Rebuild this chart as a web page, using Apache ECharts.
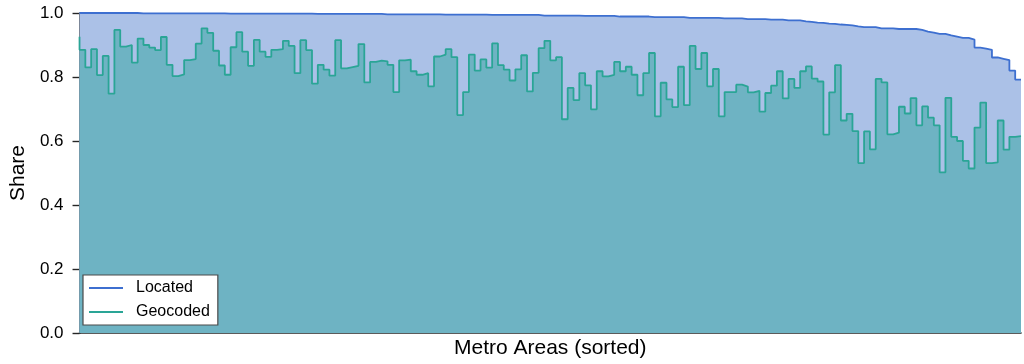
<!DOCTYPE html>
<html>
<head>
<meta charset="utf-8">
<script src="https://cdn.jsdelivr.net/npm/echarts@6/dist/echarts.min.js"></script>
<style>
  html, body { margin: 0; padding: 0; background: #ffffff; }
  #chart { width: 1024px; height: 364px; }
</style>
</head>
<body>
<div id="chart"></div>
<script>
// Share of addresses per metro area, metros sorted by located share.
const seriesNames = ['Located', 'Geocoded'];

const located = [
  1.000, 1.000, 1.000, 1.000, 1.000, 1.000, 1.000, 1.000, 1.000, 1.000,
  1.000, 0.999, 0.999, 0.999, 0.999, 0.999, 0.999, 0.999, 0.999, 0.999,
  0.999, 0.999, 0.999, 0.999, 0.999, 0.999, 0.998, 0.998, 0.998, 0.998,
  0.998, 0.998, 0.998, 0.998, 0.998, 0.998, 0.998, 0.998, 0.998, 0.998,
  0.998, 0.997, 0.997, 0.997, 0.997, 0.997, 0.997, 0.997, 0.997, 0.997,
  0.997, 0.997, 0.997, 0.996, 0.996, 0.996, 0.996, 0.996, 0.996, 0.996,
  0.996, 0.996, 0.996, 0.995, 0.995, 0.995, 0.995, 0.995, 0.995, 0.995,
  0.995, 0.994, 0.994, 0.994, 0.994, 0.994, 0.994, 0.994, 0.994, 0.994,
  0.992, 0.992, 0.992, 0.992, 0.992, 0.992, 0.992, 0.991, 0.991, 0.991,
  0.991, 0.991, 0.991, 0.989, 0.989, 0.989, 0.989, 0.989, 0.989, 0.987,
  0.987, 0.987, 0.987, 0.987, 0.987, 0.985, 0.985, 0.985, 0.985, 0.985,
  0.985, 0.983, 0.983, 0.983, 0.983, 0.981, 0.981, 0.981, 0.981, 0.979,
  0.979, 0.979, 0.977, 0.977, 0.977, 0.974, 0.972, 0.970, 0.969, 0.967,
  0.966, 0.964, 0.963, 0.961, 0.958, 0.956, 0.956, 0.956, 0.952, 0.952,
  0.952, 0.950, 0.950, 0.950, 0.950, 0.947, 0.942, 0.939, 0.935, 0.935,
  0.930, 0.926, 0.922, 0.922, 0.917, 0.892, 0.889, 0.885, 0.861, 0.857,
  0.853, 0.820, 0.792
];

const geocoded = [
  0.926, 0.885, 0.830, 0.887, 0.806, 0.866, 0.748, 0.947, 0.895, 0.900,
  0.845, 0.920, 0.900, 0.892, 0.884, 0.925, 0.838, 0.803, 0.808, 0.853,
  0.856, 0.904, 0.952, 0.938, 0.882, 0.836, 0.807, 0.893, 0.940, 0.879,
  0.835, 0.916, 0.879, 0.863, 0.885, 0.887, 0.913, 0.897, 0.812, 0.915,
  0.884, 0.779, 0.838, 0.823, 0.804, 0.915, 0.827, 0.831, 0.835, 0.903,
  0.783, 0.847, 0.851, 0.849, 0.838, 0.753, 0.852, 0.854, 0.818, 0.807,
  0.812, 0.771, 0.864, 0.870, 0.887, 0.862, 0.681, 0.753, 0.870, 0.820,
  0.855, 0.829, 0.905, 0.837, 0.823, 0.789, 0.824, 0.868, 0.755, 0.813,
  0.890, 0.913, 0.852, 0.862, 0.668, 0.766, 0.728, 0.812, 0.774, 0.699,
  0.818, 0.802, 0.807, 0.847, 0.818, 0.832, 0.807, 0.743, 0.812, 0.875,
  0.677, 0.782, 0.730, 0.706, 0.832, 0.712, 0.897, 0.825, 0.875, 0.771,
  0.825, 0.677, 0.753, 0.753, 0.776, 0.770, 0.752, 0.757, 0.692, 0.750,
  0.773, 0.818, 0.733, 0.794, 0.766, 0.818, 0.833, 0.795, 0.786, 0.620,
  0.752, 0.837, 0.664, 0.685, 0.631, 0.531, 0.630, 0.574, 0.794, 0.783,
  0.621, 0.626, 0.707, 0.686, 0.734, 0.649, 0.708, 0.673, 0.649, 0.502,
  0.735, 0.613, 0.600, 0.538, 0.514, 0.642, 0.720, 0.531, 0.533, 0.664,
  0.573, 0.613, 0.615
];

const yTickLabels = ['0.0', '0.2', '0.4', '0.6', '0.8', '1.0'];
const xAxisTitle = 'Metro Areas (sorted)';
const yAxisTitle = 'Share';

const FONT = 'Liberation Sans, Arial, Helvetica, sans-serif';
const INK = '#262626';
const LOCATED_LINE = '#3d6fd0';
const GEOCODED_LINE = '#2aa596';

const toPoints = arr => arr.map((v, i) => [i, v]);

const chart = echarts.init(document.getElementById('chart'), null, { renderer: 'canvas' });

chart.setOption({
  animation: false,
  backgroundColor: '#ffffff',
  grid: { left: 76, right: 3, top: 13, bottom: 29, containLabel: false },
  xAxis: {
    type: 'value',
    min: 0,
    max: located.length - 1,
    name: xAxisTitle,
    nameLocation: 'middle',
    nameGap: 5,
    nameTextStyle: { fontFamily: FONT, fontSize: 21, color: '#000', verticalAlign: 'top' },
    axisLine: { show: true, onZero: false, lineStyle: { color: INK, width: 1.6 } },
    axisTick: { show: false },
    axisLabel: { show: false },
    splitLine: { show: false }
  },
  yAxis: {
    type: 'value',
    min: 0,
    max: 1,
    interval: 0.2,
    name: yAxisTitle,
    nameLocation: 'middle',
    nameGap: 45,
    nameTextStyle: { fontFamily: FONT, fontSize: 21, color: '#000' },
    axisLine: { show: true, lineStyle: { color: INK, width: 1.6 } },
    axisTick: { show: true, inside: false, length: 7, lineStyle: { color: INK, width: 1.4 } },
    axisLabel: {
      fontFamily: FONT, fontSize: 17, color: '#000', margin: 16,
      formatter: v => yTickLabels[Math.round(v / 0.2)]
    },
    splitLine: { show: false }
  },
  legend: {
    orient: 'vertical',
    left: 83,
    top: 275,
    data: [
      { name: seriesNames[0], icon: 'rect', itemStyle: { color: LOCATED_LINE } },
      { name: seriesNames[1], icon: 'rect', itemStyle: { color: GEOCODED_LINE } }
    ],
    itemWidth: 34,
    itemHeight: 2,
    itemGap: 6,
    padding: [4, 8, 4, 6],
    backgroundColor: '#ffffff',
    borderColor: '#4a4a4a',
    borderWidth: 1.2,
    borderRadius: 0,
    textStyle: { fontFamily: FONT, fontSize: 16, lineHeight: 18, color: '#000', padding: [0, 0, 0, 8] }
  },
  series: [
    {
      name: seriesNames[0],
      type: 'line',
      step: 'start',
      symbol: 'none',
      data: toPoints(located),
      lineStyle: { color: LOCATED_LINE, width: 1.8 },
      itemStyle: { color: LOCATED_LINE },
      areaStyle: { color: '#abc1e7', opacity: 1 },
      z: 2
    },
    {
      name: seriesNames[1],
      type: 'line',
      step: 'start',
      symbol: 'none',
      data: toPoints(geocoded),
      lineStyle: { color: GEOCODED_LINE, width: 1.8 },
      itemStyle: { color: GEOCODED_LINE },
      areaStyle: { color: '#6eb3c3', opacity: 1 },
      z: 3
    }
  ]
});
</script>
</body>
</html>
